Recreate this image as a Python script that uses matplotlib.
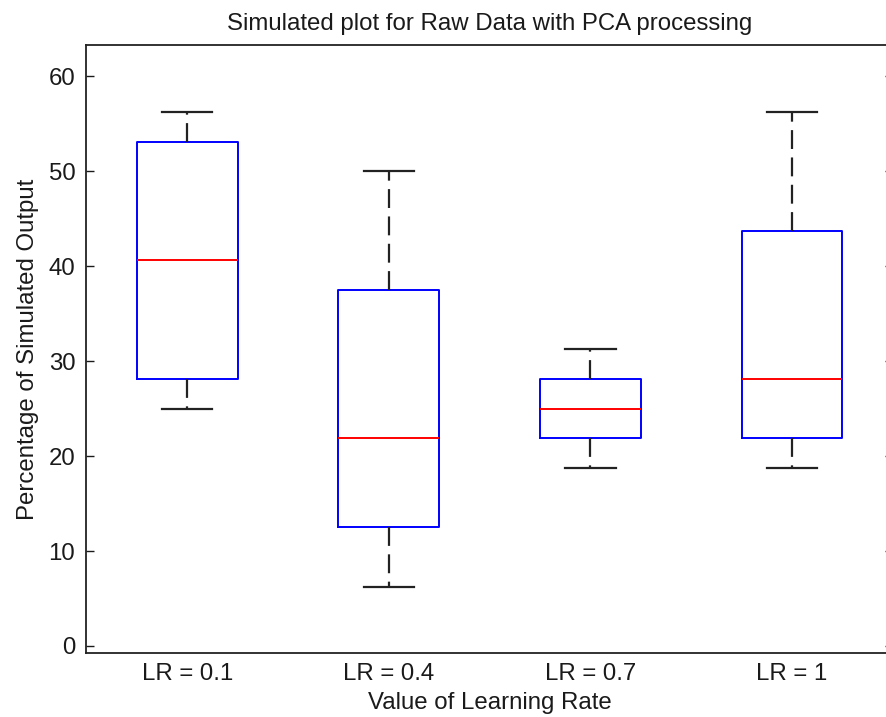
#!/usr/bin/env python3

import matplotlib
matplotlib.use('Agg')
import matplotlib.pyplot as plt
from matplotlib import font_manager

# MATLAB's screen font is tall and narrow; use the narrow face if there is one
names = {f.name for f in font_manager.fontManager.ttflist}
if 'Liberation Sans Narrow' in names:
    plt.rcParams['font.family'] = ['Liberation Sans Narrow', 'DejaVu Sans']
    fs = 21
else:
    plt.rcParams['font.family'] = ['Liberation Sans', 'DejaVu Sans']
    fs = 17.3

labels = ['LR = 0.1', 'LR = 0.4', 'LR = 0.7', 'LR = 1']
whislo = [25.0, 6.25, 18.75, 18.75]
q1 = [28.125, 12.5, 21.875, 21.875]
med = [40.625, 21.875, 25.0, 28.125]
q3 = [53.125, 37.5, 28.125, 43.75]
whishi = [56.25, 50.0, 31.25, 56.25]

stats = []
for i in range(len(labels)):
    stats.append({'label': labels[i], 'whislo': whislo[i], 'q1': q1[i],
                  'med': med[i], 'q3': q3[i], 'whishi': whishi[i], 'fliers': []})

fig = plt.figure(figsize=(8.86, 7.17), dpi=100)
# right spine sits just outside the picture, like the original crop
ax = fig.add_axes([0.0976, 0.0893, 0.910, 0.8479])

ax.bxp(stats, positions=[1, 2, 3, 4], widths=0.5, showfliers=False,
       boxprops=dict(color='blue', lw=1.4),
       medianprops=dict(color='red', lw=1.4),
       whiskerprops=dict(color='#222222', lw=1.6, linestyle=(0, (8.5, 3.8))),
       capprops=dict(color='#222222', lw=1.6))

ax.set_xlim(0.5, 4.5)
ax.set_ylim(-0.74, 63.3)
ax.set_yticks([0, 10, 20, 30, 40, 50, 60])
ax.tick_params(axis='y', direction='in', length=6, width=1, right=True,
               labelsize=fs, pad=8, colors='#1a1a1a')
ax.tick_params(axis='x', length=0, labelsize=fs, pad=7, colors='#1a1a1a')
for s in ax.spines.values():
    s.set_color('#222222')
    s.set_linewidth(1.3)

ax.set_title('Simulated plot for Raw Data with PCA processing', fontsize=fs,
             color='#1a1a1a', pad=11)
ax.set_xlabel('Value of Learning Rate', fontsize=fs, color='#1a1a1a', labelpad=5)
ax.set_ylabel('Percentage of Simulated Output', fontsize=fs, color='#1a1a1a', labelpad=7)

plt.savefig('out.png', dpi=100)
